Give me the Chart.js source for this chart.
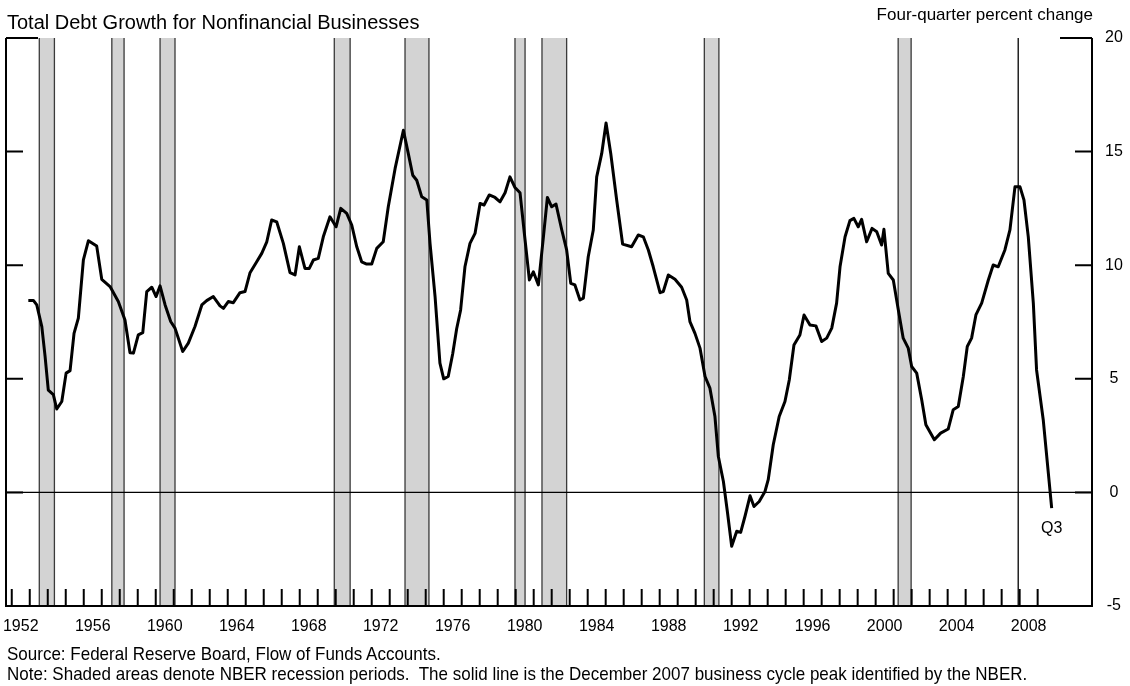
<!DOCTYPE html>
<html>
<head>
<meta charset="utf-8">
<script src="https://cdn.jsdelivr.net/npm/chart.js@4.4.0/dist/chart.umd.min.js"></script>
<style>
  body { margin: 0; background: #fff; }
  #wrap { position: relative; width: 1130px; height: 686px; font-family: "Liberation Sans", Arial, sans-serif; color: #000; }
  #wrap canvas { position: absolute; left: 0; top: 0; }
  .txt { position: absolute; white-space: pre; line-height: 1; }
  .foot { font-size: 17px; transform: scaleY(1.12); transform-origin: 0 0.85em; }
</style>
</head>
<body>
<div id="wrap">
  <canvas id="myChart" width="1130" height="686"></canvas>
  <div class="txt" style="left:7px; top:12px; font-size:20px;">Total Debt Growth for Nonfinancial Businesses</div>
  <div class="txt" style="right:37px; top:6px; font-size:17px;">Four-quarter percent change</div>
  <div class="txt foot" style="left:7px; top:646px;">Source: Federal Reserve Board, Flow of Funds Accounts.</div>
  <div class="txt foot" style="left:7px; top:666px;">Note: Shaded areas denote NBER recession periods.  The solid line is the December 2007 business cycle peak identified by the NBER.</div>
</div>
<script>
// datos (fecha decimal, % cambio en cuatro trimestres)
const dates = [
  1952.92, 1953.2, 1953.39, 1953.67, 1953.85, 1954.03, 1954.31, 1954.5, 1954.78, 1955.02,
  1955.24, 1955.46, 1955.7, 1955.98, 1956.26, 1956.72, 1957.0, 1957.46, 1957.92, 1958.29,
  1958.57, 1958.76, 1959.03, 1959.28, 1959.5, 1959.78, 1960.02, 1960.24, 1960.52, 1960.83,
  1961.07, 1961.5, 1961.81, 1962.18, 1962.56, 1962.83, 1963.2, 1963.57, 1963.76, 1964.03,
  1964.31, 1964.68, 1964.96, 1965.24, 1965.61, 1965.89, 1966.17, 1966.44, 1966.72, 1967.09,
  1967.46, 1967.74, 1967.98, 1968.29, 1968.53, 1968.76, 1969.03, 1969.31, 1969.68, 1970.02,
  1970.28, 1970.61, 1970.89, 1971.17, 1971.44, 1971.72, 1972.0, 1972.28, 1972.64, 1972.92,
  1973.3, 1973.76, 1974.03, 1974.28, 1974.5, 1974.78, 1975.06, 1975.24, 1975.52, 1975.79,
  1976.0, 1976.25, 1976.5, 1976.72, 1976.94, 1977.18, 1977.46, 1977.74, 1978.02, 1978.24,
  1978.53, 1978.85, 1979.13, 1979.41, 1979.68, 1979.96, 1980.24, 1980.52, 1980.76, 1980.98,
  1981.26, 1981.54, 1981.76, 1982.0, 1982.24, 1982.56, 1982.83, 1983.06, 1983.29, 1983.57,
  1983.76, 1984.03, 1984.31, 1984.5, 1984.78, 1985.02, 1985.28, 1985.61, 1985.94, 1986.44,
  1986.81, 1987.09, 1987.37, 1987.64, 1988.02, 1988.2, 1988.48, 1988.85, 1989.22, 1989.5,
  1989.68, 1989.96, 1990.24, 1990.52, 1990.79, 1991.07, 1991.26, 1991.54, 1991.76, 1992.0,
  1992.28, 1992.5, 1992.74, 1993.02, 1993.24, 1993.53, 1993.85, 1994.03, 1994.31, 1994.64,
  1994.96, 1995.2, 1995.46, 1995.79, 1996.02, 1996.35, 1996.68, 1997.0, 1997.28, 1997.56,
  1997.83, 1998.02, 1998.3, 1998.57, 1998.79, 1999.03, 1999.22, 1999.5, 1999.8, 2000.06,
  2000.33, 2000.46, 2000.7, 2000.98, 2001.26, 2001.53, 2001.81, 2002.0, 2002.28, 2002.56,
  2002.79, 2003.26, 2003.61, 2004.03, 2004.31, 2004.59, 2004.87, 2005.09, 2005.33, 2005.57,
  2005.89, 2006.26, 2006.53, 2006.81, 2007.18, 2007.46, 2007.74, 2008.02, 2008.24, 2008.48,
  2008.76, 2008.94, 2009.31, 2009.78
];
const debtGrowth = [
  8.45, 8.45, 8.25, 7.3, 6.0, 4.5, 4.3, 3.67, 4.0, 5.25,
  5.36, 7.0, 7.67, 10.23, 11.08, 10.84, 9.38, 9.06, 8.4, 7.59,
  6.15, 6.13, 6.93, 7.03, 8.84, 9.03, 8.62, 9.09, 8.25, 7.52,
  7.23, 6.2, 6.57, 7.3, 8.25, 8.44, 8.62, 8.21, 8.1, 8.4,
  8.35, 8.79, 8.84, 9.67, 10.15, 10.52, 11.03, 11.99, 11.91, 10.96,
  9.67, 9.57, 10.81, 9.86, 9.86, 10.23, 10.3, 11.25, 12.13, 11.69,
  12.5, 12.28, 11.77, 10.81, 10.15, 10.05, 10.05, 10.74, 11.03, 12.57,
  14.26, 15.94, 14.92, 13.96, 13.74, 13.01, 12.87, 10.96, 8.62, 5.69,
  5.0, 5.1, 6.1, 7.2, 8.03, 9.93, 10.96, 11.4, 12.72, 12.65,
  13.09, 12.98, 12.79, 13.19, 13.89, 13.42, 13.19, 11.11, 9.35, 9.71,
  9.13, 11.25, 12.98, 12.57, 12.69, 11.55, 10.67, 9.2, 9.13, 8.47,
  8.55, 10.37, 11.55, 13.89, 14.92, 16.26, 14.92, 12.87, 10.93, 10.81,
  11.33, 11.25, 10.67, 9.93, 8.79, 8.84, 9.57, 9.38, 9.03, 8.47,
  7.52, 7.0, 6.35, 5.1, 4.59, 3.34, 1.58, 0.48, -0.84, -2.37,
  -1.71, -1.76, -1.05, -0.15, -0.62, -0.4, 0.04, 0.56, 2.1, 3.34,
  4.0, 4.95, 6.49, 6.93, 7.81, 7.37, 7.33, 6.64, 6.79, 7.23,
  8.33, 9.93, 11.25, 11.96, 12.06, 11.69, 12.02, 11.03, 11.62, 11.47,
  10.89, 11.58, 9.64, 9.35, 8.03, 6.79, 6.35, 5.54, 5.25, 4.07,
  2.98, 2.32, 2.61, 2.79, 3.64, 3.78, 5.1, 6.42, 6.79, 7.81,
  8.33, 9.35, 10.01, 9.93, 10.67, 11.55, 13.45, 13.45, 12.87, 11.25,
  8.33, 5.39, 3.2, -0.69
];
// recesiones NBER (inicio, fin)
const recessions = [
  [1953.53, 1954.37], [1957.56, 1958.24], [1960.24, 1961.07], [1969.92, 1970.8],
  [1973.85, 1975.18], [1979.96, 1980.52], [1981.46, 1982.83], [1990.48, 1991.29],
  [2001.25, 2001.97]
];
const peakDate = 2007.92; // diciembre 2007
const labelYears = [1952, 1956, 1960, 1964, 1968, 1972, 1976, 1980, 1984, 1988, 1992, 1996, 2000, 2004, 2008];
const firstTickYear = 1952;
const lastTickYear = 2009;
const valueTicks = [-5, 0, 5, 10, 15, 20];
const lastLabel = 'Q3';

Chart.defaults.font.family = '"Liberation Sans", Arial, sans-serif';
Chart.defaults.font.size = 16;
Chart.defaults.color = '#000';

//sombreado, lineas y marco
const decor = {
  id: 'decor',
  beforeDatasetsDraw(chart) {
    const { ctx, chartArea: a, scales: { x, y } } = chart;
    ctx.save();
    recessions.forEach(([s, e]) => {
      const x0 = x.getPixelForValue(s), x1 = x.getPixelForValue(e);
      ctx.fillStyle = '#d3d3d3';
      ctx.fillRect(x0, a.top, x1 - x0, a.bottom - a.top);
      ctx.strokeStyle = '#3a3a3a';
      ctx.lineWidth = 1.3;
      ctx.beginPath();
      ctx.moveTo(x0, a.top); ctx.lineTo(x0, a.bottom);
      ctx.moveTo(x1, a.top); ctx.lineTo(x1, a.bottom);
      ctx.stroke();
    });
    ctx.strokeStyle = '#000';
    ctx.lineWidth = 1.3;
    const px = x.getPixelForValue(peakDate);
    ctx.beginPath(); ctx.moveTo(px, a.top); ctx.lineTo(px, a.bottom); ctx.stroke();
    const y0 = y.getPixelForValue(0);
    ctx.beginPath(); ctx.moveTo(a.left, y0); ctx.lineTo(a.right, y0); ctx.stroke();
    ctx.restore();
  },
  afterDatasetsDraw(chart) {
    const { ctx, chartArea: a, scales: { x, y } } = chart;
    ctx.save();
    ctx.strokeStyle = '#000';
    ctx.lineWidth = 2;
    ctx.beginPath();
    ctx.moveTo(a.left, a.top); ctx.lineTo(a.left, a.bottom); ctx.lineTo(a.right, a.bottom); ctx.lineTo(a.right, a.top);
    ctx.moveTo(a.left, a.top); ctx.lineTo(a.left + 32, a.top);
    ctx.moveTo(a.right - 32, a.top); ctx.lineTo(a.right, a.top);
    // marcas anuales
    for (let yr = firstTickYear; yr <= lastTickYear; yr++) {
      const px = x.getPixelForValue(yr);
      ctx.moveTo(px, a.bottom); ctx.lineTo(px, a.bottom - 17);
    }
    // marcas del eje y
    valueTicks.forEach(v => {
      const py = y.getPixelForValue(v);
      ctx.moveTo(a.right, py); ctx.lineTo(a.right - 17, py);
      ctx.moveTo(a.left, py); ctx.lineTo(a.left + 17, py);
    });
    ctx.stroke();
    // etiqueta del ultimo dato
    const n = dates.length - 1;
    ctx.font = '16px "Liberation Sans", Arial, sans-serif';
    ctx.fillStyle = '#000';
    ctx.textAlign = 'center';
    ctx.fillText(lastLabel, x.getPixelForValue(dates[n]), y.getPixelForValue(debtGrowth[n]) + 25);
    ctx.restore();
  }
};

const ctx = document.getElementById('myChart');

new Chart(ctx, {
  type: 'line',
  data: {
    datasets: [{
      data: dates.map((d, i) => ({ x: d, y: debtGrowth[i] })),
      borderColor: '#000',
      borderWidth: 3,
      borderJoinStyle: 'round',
      pointRadius: 0,
      tension: 0
    }]
  },
  options: {
    responsive: false,
    animation: false,
    devicePixelRatio: 1,
    layout: { padding: { left: 6, top: 38, right: 0, bottom: 40 } },
    plugins: { legend: { display: false }, tooltip: { enabled: false } },
    scales: {
      x: {
        type: 'linear',
        min: 1951.68,
        max: 2012.02,
        afterBuildTicks: s => { s.ticks = labelYears.map(v => ({ value: v + 0.5 })); },
        afterFit: s => { s.height = 40; s.paddingLeft = 0; s.paddingRight = 0; },
        grid: { display: false, drawTicks: false },
        border: { display: false },
        ticks: {
          autoSkip: false,
          maxRotation: 0,
          padding: 11,
          callback: v => String(Math.floor(v))
        }
      },
      y: {
        position: 'right',
        min: -5,
        max: 20,
        afterBuildTicks: s => { s.ticks = valueTicks.map(v => ({ value: v })); },
        afterFit: s => { s.width = 38; s.paddingTop = 0; s.paddingBottom = 0; },
        grid: { display: false, drawTicks: false },
        border: { display: false },
        ticks: { padding: 13, crossAlign: 'center' }
      }
    }
  },
  plugins: [decor]
});
</script>
</body>
</html>
